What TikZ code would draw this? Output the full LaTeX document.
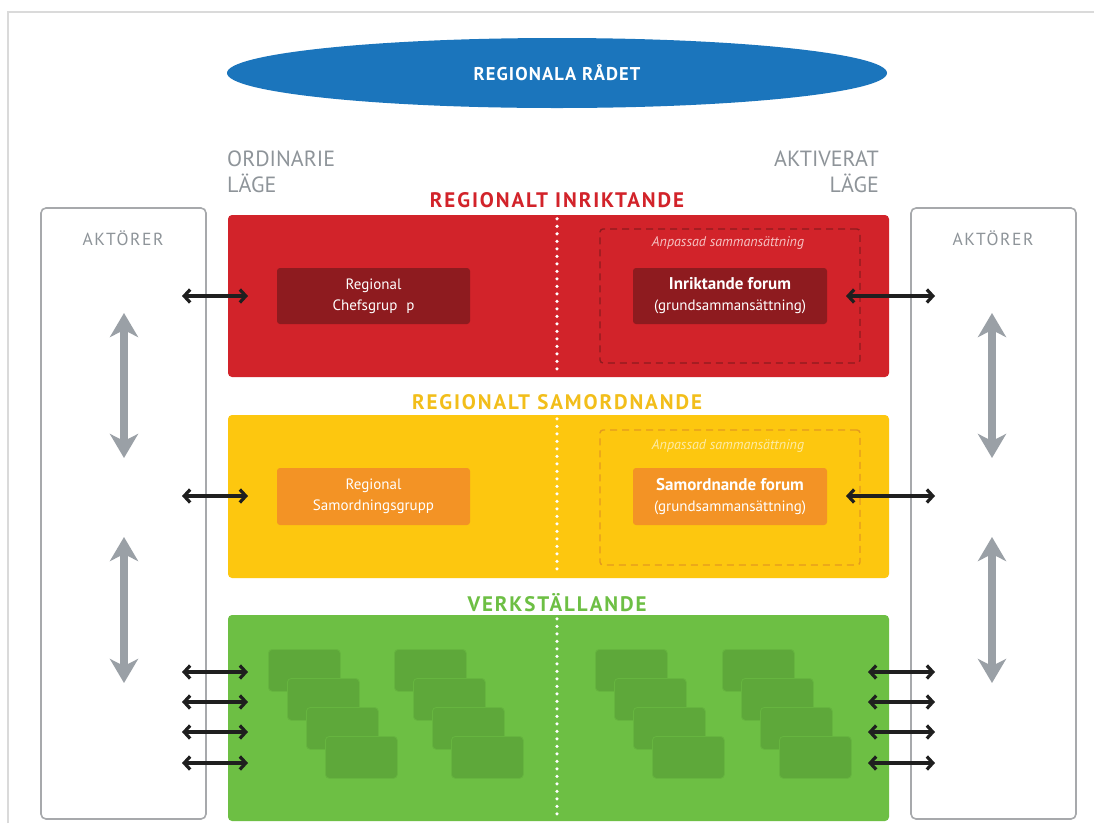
\documentclass[tikz,border=0pt]{standalone}
\usepackage{fontspec}
\setmainfont{PT Sans}
\usetikzlibrary{arrows.meta,shapes.geometric}
\definecolor{rblue}{HTML}{1B75BC}
\definecolor{rred}{HTML}{D2232A}
\definecolor{rdred}{HTML}{8E1B1F}
\definecolor{rpink}{HTML}{F5C2C2}
\definecolor{ryel}{HTML}{FDC70F}
\definecolor{ryeltxt}{HTML}{F2BE1A}
\definecolor{rorange}{HTML}{F39325}
\definecolor{rdorange}{HTML}{E39A1F}
\definecolor{rcream}{HTML}{FDEBA6}
\definecolor{rgreen}{HTML}{6DBF44}
\definecolor{rdgreen}{HTML}{5EA83A}
\definecolor{rgray}{HTML}{A7A9AC}
\definecolor{rgraytxt}{HTML}{8E9499}
\definecolor{rgrayarr}{HTML}{9AA0A6}
\definecolor{rframe}{HTML}{DADADA}
\tikzset{
  panel/.style={draw=none, rounded corners=4pt, inner sep=0pt, minimum width=661pt},
  actorbox/.style={draw=rgray, line width=1.6pt, fill=white, rounded corners=5pt, inner sep=0pt, minimum width=165pt, minimum height=611pt},
  dashbox/.style={dashed, dash pattern=on 7pt off 5pt, line width=1.4pt, rounded corners=3pt, inner sep=0pt, minimum width=260pt, minimum height=134pt},
  innerbox/.style={rounded corners=3pt, inner sep=0pt, minimum width=193pt, minimum height=56pt, align=center, font=\fontsize{15}{21}\selectfont, text=white},
  lvltitle/.style={font=\fontsize{21}{24}\selectfont\bfseries\addfontfeatures{LetterSpace=9}},
  modetxt/.style={font=\fontsize{22}{26}\selectfont, text=rgraytxt, inner sep=0pt},
  anp/.style={font=\fontsize{14}{16}\selectfont\itshape, inner sep=0pt},
  minibox/.style={fill=rdgreen, draw=rgreen!55!rdgreen, line width=0.8pt, rounded corners=4pt, inner sep=0pt, minimum width=72pt, minimum height=42pt},
  biarrow/.style={{Straight Barb[length=6pt,width=13pt]}-{Straight Barb[length=6pt,width=13pt]}, line width=3.2pt, black!88},
  grayarrow/.style={{Stealth[length=24pt,width=28pt,inset=7pt]}-{Stealth[length=24pt,width=28pt,inset=7pt]}, line width=7.5pt, rgrayarr},
  dotline/.style={white, line width=3.6pt, line cap=round, dash pattern=on 0pt off 7.5pt}
}
\begin{document}
\begin{tikzpicture}[x=1pt,y=-1pt]
\useasboundingbox (0,0) rectangle (1094,823);
\fill[white] (0,0) rectangle (1094,823);
% frame
\draw[rframe, line width=1.8pt] (8,823) -- (8,12) -- (1094,12);

% council
\node[ellipse, fill=rblue, minimum width=660pt, minimum height=70pt, inner sep=0pt,
  text=white, font=\fontsize{18.5}{22}\selectfont\bfseries\addfontfeatures{LetterSpace=6}]
  (council) at (557,73) {REGIONALA RÅDET};

% mode labels
\node[modetxt, anchor=north west, align=left] (ord) at (227,151) {ORDINARIE\\LÄGE};
\node[modetxt, anchor=north east, align=right] (akt) at (879,151) {AKTIVERAT\\LÄGE};

% actor boxes
\node[actorbox] (actL) at (123.5,513.5) {};
\node[actorbox] (actR) at (993.5,513.5) {};
\node[font=\fontsize{17.5}{20}\selectfont\addfontfeatures{LetterSpace=9}, text=rgraytxt] (actLt) at (123,238) {AKTÖRER};
\node[font=\fontsize{17.5}{20}\selectfont\addfontfeatures{LetterSpace=9}, text=rgraytxt] (actRt) at (993,238) {AKTÖRER};

% panels
\node[panel, fill=rred, minimum height=162pt] (pRed) at (558.5,296) {};
\node[panel, fill=ryel, minimum height=163pt] (pYel) at (558.5,496.5) {};
\node[panel, fill=rgreen, minimum height=206pt] (pGreen) at (558.5,718) {};

% titles
\node[lvltitle, text=rred] (tRed) at (557,200) {REGIONALT INRIKTANDE};
\node[lvltitle, text=ryeltxt] (tYel) at (557,402) {REGIONALT SAMORDNANDE};
\node[lvltitle, text=rgreen] (tGreen) at (557,603) {VERKSTÄLLANDE};

% dotted dividers
\draw[dotline] ([xshift=-1.5pt,yshift=-4pt]pRed.north) -- ([xshift=-1.5pt,yshift=3pt]pRed.south);
\draw[dotline] ([xshift=-1.5pt,yshift=-4pt]pYel.north) -- ([xshift=-1.5pt,yshift=3pt]pYel.south);
\draw[dotline] ([xshift=-1.5pt,yshift=-4pt]pGreen.north) -- ([xshift=-1.5pt,yshift=3pt]pGreen.south);

% red level contents
\node[dashbox, draw=rdred] (dRed) at (730,296) {};
\node[anp, text=rpink] (aRed) at (728,243) {Anpassad sammansättning};
\node[innerbox, fill=rdred] (chef) at (373.5,296) {Regional\\Chefsgrup\hspace{0.6em}p};
\node[innerbox, fill=rdred, minimum width=194pt] (inrf) at (730,296)
  {{\fontsize{17}{21}\selectfont\bfseries Inriktande forum}\\(grundsammansättning)};

% yellow level contents
\node[dashbox, draw=rdorange, minimum height=135pt] (dYel) at (730,497.5) {};
\node[anp, text=rcream] (aYel) at (728,446) {Anpassad sammansättning};
\node[innerbox, fill=rorange, minimum height=57pt] (samg) at (373.5,496.5) {Regional\\Samordningsgrupp};
\node[innerbox, fill=rorange, minimum width=194pt, minimum height=57pt] (samf) at (730,496.5)
  {{\fontsize{17}{21}\selectfont\bfseries Samordnande forum}\\(grundsammansättning)};

% green level mini boxes
\foreach \gx [count=\g] in {268,394,595,722}{
  \foreach \k in {0,1,2,3}{
    \node[minibox, anchor=north west] (m\g\k) at ({\gx+19*\k},{649+29*\k}) {};
  }
}

% black arrows
\coordinate (l1a) at (182,296); \coordinate (l1b) at (248,296);
\coordinate (r1a) at (846,296); \coordinate (r1b) at (935,296);
\coordinate (l2a) at (182,496); \coordinate (l2b) at (248,496);
\coordinate (r2a) at (846,496); \coordinate (r2b) at (935,496);
\draw[biarrow] (l1a) -- (l1b);
\draw[biarrow] (r1a) -- (r1b);
\draw[biarrow] (l2a) -- (l2b);
\draw[biarrow] (r2a) -- (r2b);
\foreach \yy [count=\i] in {672,702,732,763}{
  \coordinate (gl\i a) at (182,\yy); \coordinate (gl\i b) at (248,\yy);
  \coordinate (gr\i a) at (868,\yy); \coordinate (gr\i b) at (935,\yy);
  \draw[biarrow] (gl\i a) -- (gl\i b);
  \draw[biarrow] (gr\i a) -- (gr\i b);
}

% gray vertical arrows
\coordinate (ga1) at (124,313); \coordinate (gb1) at (124,458);
\coordinate (ga2) at (124,537); \coordinate (gb2) at (124,683);
\coordinate (ga3) at (992,313); \coordinate (gb3) at (992,458);
\coordinate (ga4) at (992,537); \coordinate (gb4) at (992,683);
\draw[grayarrow] (ga1) -- (gb1);
\draw[grayarrow] (ga2) -- (gb2);
\draw[grayarrow] (ga3) -- (gb3);
\draw[grayarrow] (ga4) -- (gb4);
\end{tikzpicture}
\end{document}
